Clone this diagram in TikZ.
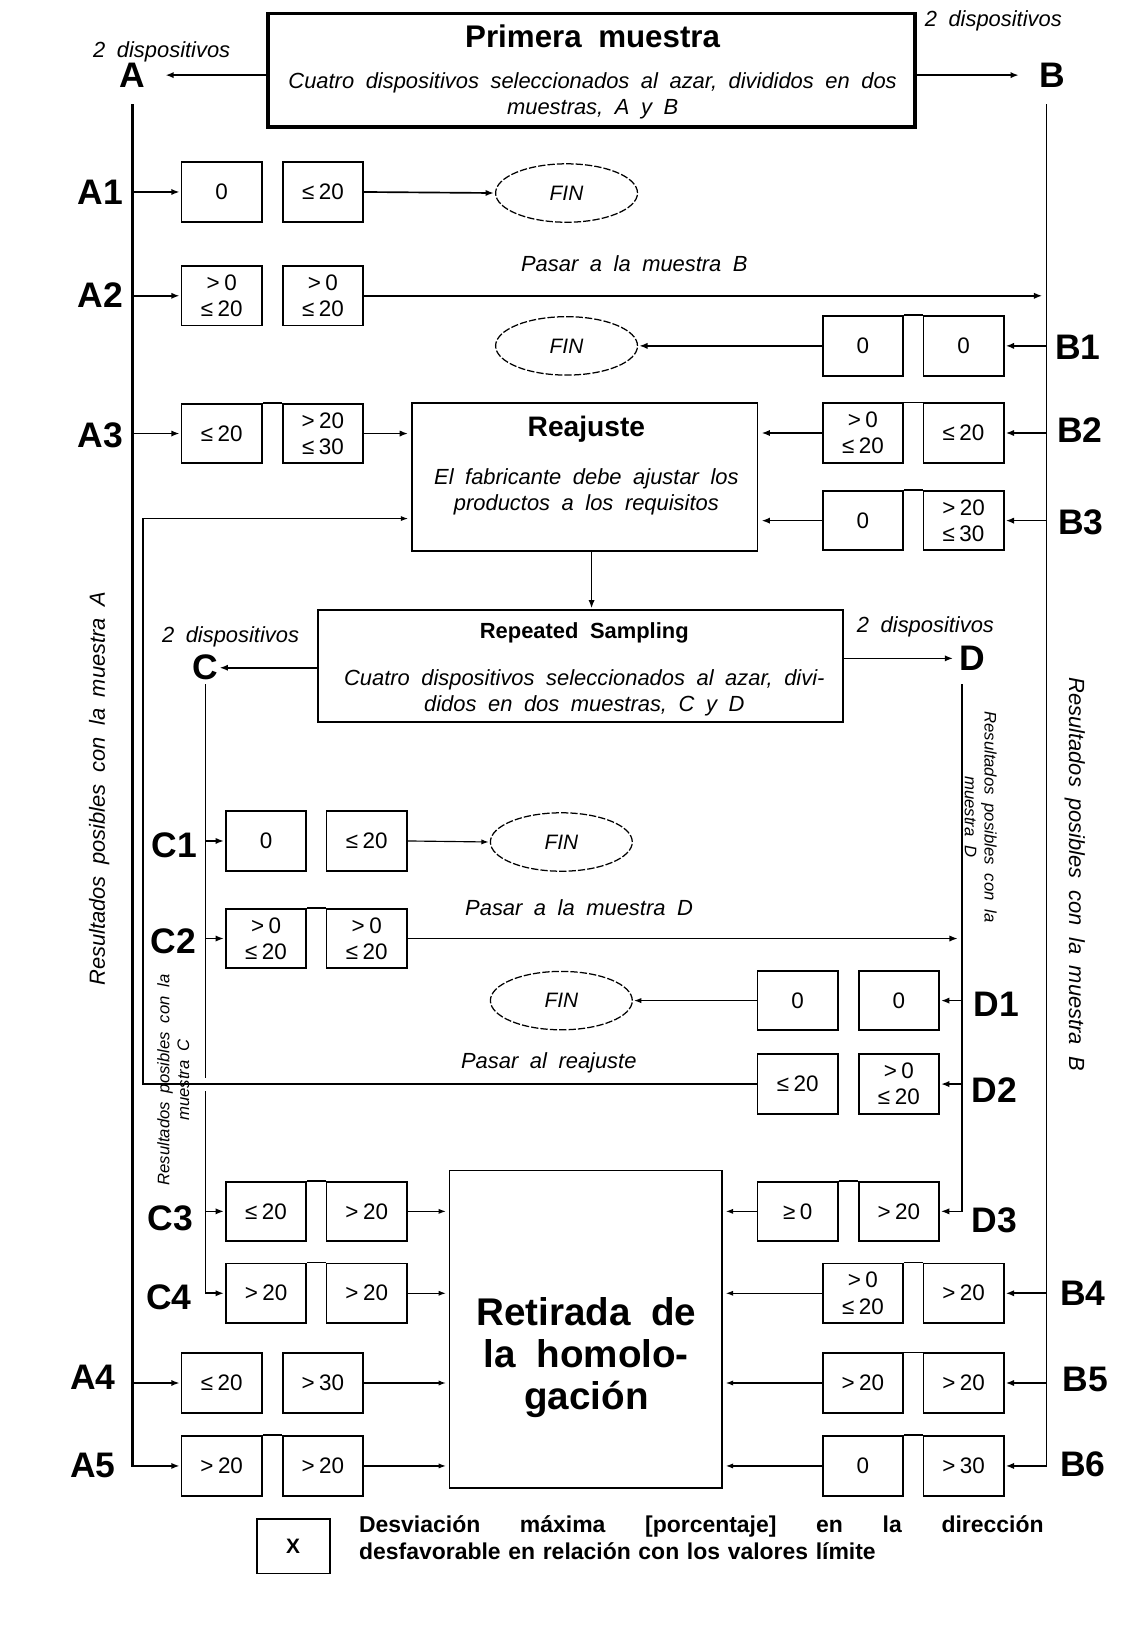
\documentclass[tikz,border=0pt]{standalone}
\usepackage{fontspec}
\setmainfont{Liberation Sans}[WordSpace=1.9]
\usetikzlibrary{arrows.meta,shapes.geometric,calc}
\newcommand{\vle}{≤\hspace{0.2em}}
\newcommand{\vge}{≥\hspace{0.2em}}
\newcommand{\vgt}{>\hspace{0.2em}}
\begin{document}
\begin{tikzpicture}[x=1pt,y=-1pt,
  arr/.style={-{Latex[length=8pt,width=6pt]}, line width=1.6pt, shorten >=1pt},
  tarr/.style={-{Latex[length=7pt,width=5pt]}, line width=1.1pt, shorten >=1pt},
  ln/.style={line width=1.6pt},
  vbox/.style={draw, line width=1.7pt, minimum width=77pt, minimum height=57pt, inner sep=0pt, align=center, font=\fontsize{21.5}{25}\selectfont},
  lbl/.style={font=\bfseries\fontsize{34}{36}\selectfont, inner sep=0pt},
  fin/.style={draw, ellipse, dash pattern=on 7pt off 2pt, line width=1.2pt, minimum width=136pt, minimum height=56pt, inner sep=0pt, font=\itshape\fontsize{20}{24}\selectfont},
  itx/.style={font=\itshape\fontsize{21}{25}\selectfont, inner sep=0pt},
  bigbox/.style={draw, line width=1.8pt, inner sep=0pt}
]
\fill[white] (0,0) rectangle (1095,1568);
\useasboundingbox (0,0) rectangle (1095,1568);

% ---------- top box ----------
\node[bigbox, line width=3.5pt, minimum width=620pt, minimum height=109pt] (PM) at (567,67.5) {};
\node[font=\bfseries\fontsize{30}{32}\selectfont, inner sep=0pt] (PMt) at (568,35) {Primera muestra};
\node[itx, align=center] (PMx) at (568,91.5) {Cuatro dispositivos seleccionados al azar, divididos en dos\\muestras, A y B};

\node[itx] (dA) at (155,50) {2 dispositivos};
\node[lbl] (A) at (127,72) {A};
\node[itx] (dB) at (952,20) {2 dispositivos};
\node[lbl] (B) at (1009,72) {B};
\draw[arr, shorten >=19pt] (A.east -| PM.west) -- (A.east);
\draw[arr, shorten >=20pt] (B.west -| PM.east) -- (B.west);

\coordinate (Atop) at (127,100);
\coordinate (Btop) at (1003,100);

% ---------- rotated side texts ----------
\node[itx, rotate=90] (RA) at (95,756) {Resultados posibles con la muestra A};
\node[itx, rotate=-90] (RB) at (1030,838) {Resultados posibles con la muestra B};

% ---------- A / B rows ----------
\node[lbl] (lA1) at (96,184) {A1};
\node[vbox] (A1a) at (212.5,184) {0};
\node[vbox] (A1b) at (309.5,184) {\vle 20};
\node[fin] (FIN1) at (543,185) {FIN};

\node[lbl] (lA2) at (96,283) {A2};
\node[vbox] (A2a) at (212.5,283.5) {\vgt 0\\\vle 20};
\node[vbox] (A2b) at (309.5,283.5) {\vgt 0\\\vle 20};
\node[itx] (tA2) at (608,253) {Pasar a la muestra B};

\node[lbl] (lB1) at (1033,333) {B1};
\node[vbox] (B1a) at (827,331.5) {0};
\node[vbox] (B1b) at (923.5,331.5) {0};
\node[fin] (FIN2) at (543,331.5) {FIN};

\node[lbl] (lA3) at (96,417) {A3};
\node[vbox] (A3a) at (212.5,415.5) {\vle 20};
\node[vbox] (A3b) at (309.5,415.5) {\vgt 20\\\vle 30};

\node[bigbox, minimum width=331pt, minimum height=142pt] (Reaj) at (560.5,457) {};
\node[font=\bfseries\fontsize{27}{30}\selectfont, inner sep=0pt] (Reajt) at (562,411) {Reajuste};
\node[itx, align=center] (Reajx) at (562,471) {El fabricante debe ajustar los\\productos a los requisitos};

\node[lbl] (lB2) at (1035,412) {B2};
\node[vbox] (B2a) at (827,415) {\vgt 0\\\vle 20};
\node[vbox] (B2b) at (923.5,415) {\vle 20};

\node[lbl] (lB3) at (1036,501) {B3};
\node[vbox] (B3a) at (827,499) {0};
\node[vbox] (B3b) at (923.5,499) {\vgt 20\\\vle 30};

% ---------- repeated sampling ----------
\node[bigbox, minimum width=503pt, minimum height=107pt] (RS) at (556.5,638.5) {};
\node[font=\bfseries\fontsize{21}{24}\selectfont, inner sep=0pt] (RSt) at (560,607) {Repeated Sampling};
\node[itx, align=center] (RSx) at (560,664) {Cuatro dispositivos seleccionados al azar, divi-\\didos en dos muestras, C y D};

\node[itx] (dC) at (221,610) {2 dispositivos};
\node[lbl] (C) at (197,640) {C};
\node[itx] (dD) at (887,601) {2 dispositivos};
\node[lbl] (D) at (932,631) {D};
\draw[arr] (C.east -| RS.west) -- (C.east);
\draw[arr, shorten >=6pt] (D.west -| RS.east) -- (D.west);

\draw[arr] ([xshift=6.5pt]Reaj.south) -- ([xshift=6.5pt]Reaj.south |- RS.north);

\coordinate (Ctop) at (197,656);
\coordinate (Dtop) at (922,656);
\coordinate (Cbr1) at (197,1033);
\coordinate (Cbr2) at (197,1046);

\node[font=\itshape\fontsize{16}{19}\selectfont, rotate=90, align=center, inner sep=0pt] (RC) at (166,1035) {Resultados posibles con la\\muestra C};
\node[font=\itshape\fontsize{16}{19}\selectfont, rotate=-90, align=center, inner sep=0pt] (RD) at (940,783) {Resultados posibles con la\\muestra D};

% ---------- C / D rows ----------
\node[lbl] (lC1) at (167,810) {C1};
\node[vbox] (C1a) at (255,806) {0};
\node[vbox] (C1b) at (351.5,806) {\vle 20};
\node[fin] (FIN3) at (538,807) {FIN};

\node[lbl] (lC2) at (166,902) {C2};
\node[vbox] (C2a) at (255,899.5) {\vgt 0\\\vle 20};
\node[vbox] (C2b) at (351.5,899.5) {\vgt 0\\\vle 20};
\node[itx] (tC2) at (555,870) {Pasar a la muestra D};

\node[lbl] (lD1) at (955,963) {D1};
\node[vbox] (D1a) at (764.5,959) {0};
\node[vbox] (D1b) at (861.5,959) {0};
\node[fin] (FIN4) at (538,959) {FIN};

\node[lbl] (lD2) at (953,1045) {D2};
\node[vbox] (D2a) at (764.5,1039) {\vle 20};
\node[vbox] (D2b) at (861.5,1039) {\vgt 0\\\vle 20};
\node[itx] (tD2) at (526,1019) {Pasar al reajuste};

% ---------- withdrawal ----------
\node[draw, line width=1.3pt, inner sep=0pt, minimum width=261pt, minimum height=304pt] (Ret) at (561.5,1274) {};
\node[font=\bfseries\fontsize{37}{40}\selectfont, align=center, inner sep=0pt] (Rett) at (562,1301) {Retirada de\\la homolo-\\gación};

\node[lbl] (lC3) at (163,1168) {C3};
\node[vbox] (C3a) at (255,1161) {\vle 20};
\node[vbox] (C3b) at (351.5,1161) {\vgt 20};

\node[lbl] (lD3) at (953,1170) {D3};
\node[vbox] (D3a) at (764.5,1161) {\vge 0};
\node[vbox] (D3b) at (861.5,1161) {\vgt 20};

\node[lbl] (lC4) at (162,1243) {C4};
\node[vbox] (C4a) at (255,1239.5) {\vgt 20};
\node[vbox] (C4b) at (351.5,1239.5) {\vgt 20};

\node[lbl] (lB4) at (1038,1240) {B4};
\node[vbox] (B4a) at (827,1239.5) {\vgt 0\\\vle 20};
\node[vbox] (B4b) at (923.5,1239.5) {\vgt 20};

\node[lbl] (lA4) at (89,1320) {A4};
\node[vbox] (A4a) at (212.5,1325.5) {\vle 20};
\node[vbox] (A4b) at (309.5,1325.5) {\vgt 30};

\node[lbl] (lB5) at (1040,1322) {B5};
\node[vbox] (B5a) at (827,1325.5) {\vgt 20};
\node[vbox] (B5b) at (923.5,1325.5) {\vgt 20};

\node[lbl] (lA5) at (89,1405) {A5};
\node[vbox] (A5a) at (212.5,1405) {\vgt 20};
\node[vbox] (A5b) at (309.5,1405) {\vgt 20};

\node[lbl] (lB6) at (1038,1403) {B6};
\node[vbox] (B6a) at (827,1405) {0};
\node[vbox] (B6b) at (923.5,1405) {\vgt 30};

% joined tops of some pairs
\foreach \p in {A3,A5,B1,B2,B3,B4,B5,B6,C2,C3,C4,D3}
  \draw[ln] (\p a.north east) -- (\p b.north west);

% ---------- trunk lines ----------
\draw[arr, line width=2.2pt] (Atop) |- (A5a.west);
\draw[arr] (Btop) |- (B6b.east);
\draw[ln] (Ctop) -- (Cbr1);
\draw[arr] (Cbr2) |- (C4a.west);
\draw[arr, line width=1.3pt] (Dtop) |- (D3b.east);

% ---------- branch arrows ----------
\foreach \r in {A1,A2,A3,A4}
  \draw[arr] (\r a.west -| Atop) -- (\r a.west);
\foreach \r in {B1,B2,B3,B4,B5}
  \draw[arr] (\r b.east -| Btop) -- (\r b.east);
\foreach \r in {C1,C2,C3}
  \draw[arr] (\r a.west -| Ctop) -- (\r a.west);
\foreach \r in {D1,D2}
  \draw[arr] (\r b.east -| Dtop) -- (\r b.east);

\draw[arr] (A1b.east) -- (FIN1.west);
\draw[arr, shorten >=4pt] (A2b.east) -- (A2b.east -| Btop);
\draw[arr] (B1a.west) -- (FIN2.east);
\draw[arr, shorten >=3pt] (A3b.east) -- (A3b.east -| Reaj.west);
\draw[arr, shorten >=3pt] (B2a.west) -- (B2a.west -| Reaj.east);
\draw[arr, shorten >=3pt] (B3a.west) -- (B3a.west -| Reaj.east);

\draw[tarr] (C1b.east) -- (FIN3.west);
\draw[arr, shorten >=4pt] (C2b.east) -- (C2b.east -| Dtop);
\draw[tarr] (D1a.west) -- (FIN4.east);

\coordinate (LpB) at (137,1039);
\coordinate (LpT) at (137,497);
\draw[tarr, shorten >=3pt] (D2a.west) -- (LpB) -- (LpT) -- (LpT -| Reaj.west);

\foreach \r in {C3,C4,A4,A5}
  \draw[tarr, shorten >=3pt] (\r b.east) -- (\r b.east -| Ret.west);
\foreach \r in {D3,B4,B5,B6}
  \draw[tarr, shorten >=3pt] (\r a.west) -- (\r a.west -| Ret.east);

% ---------- legend ----------
\node[draw, line width=1.6pt, minimum width=70pt, minimum height=52pt, inner sep=0pt, font=\bfseries\fontsize{20}{24}\selectfont] (LX) at (281,1482) {X};
\node[anchor=north west, inner sep=0pt, font=\bfseries\fontsize{22}{26}\selectfont, align=left, text width=660pt] (LT) at (344,1452) {\hbox to 656pt{Desviación\hfill máxima\hfill [porcentaje]\hfill en\hfill la\hfill dirección}\\desfavorable en relación con los valores límite};
\end{tikzpicture}
\end{document}
